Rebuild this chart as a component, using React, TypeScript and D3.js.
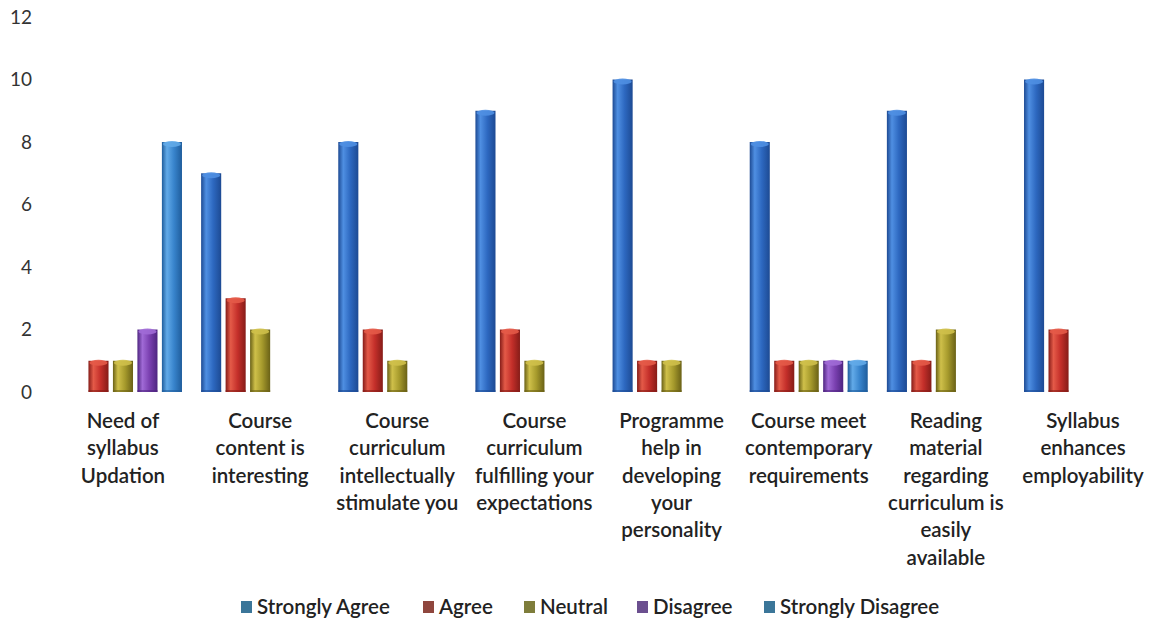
import React from "react";
import * as d3 from "d3";

const categories: string[][] = [
  ["Need of", "syllabus", "Updation"],
  ["Course", "content is", "interesting"],
  ["Course", "curriculum", "intellectually", "stimulate you"],
  ["Course", "curriculum", "fulfilling your", "expectations"],
  ["Programme", "help in", "developing", "your", "personality"],
  ["Course meet", "contemporary", "requirements"],
  ["Reading", "material", "regarding", "curriculum is", "easily", "available"],
  ["Syllabus", "enhances", "employability"],
];

const seriesNames = ["Strongly Agree", "Agree", "Neutral", "Disagree", "Strongly Disagree"];
const stronglyAgree = [0, 7, 8, 9, 10, 8, 9, 10];
const agree = [1, 3, 2, 2, 1, 1, 1, 2];
const neutral = [1, 2, 1, 1, 1, 1, 2, 0];
const disagree = [2, 0, 0, 0, 0, 1, 0, 0];
const stronglyDisagree = [8, 0, 0, 0, 0, 1, 0, 0];
const yTicks = [0, 2, 4, 6, 8, 10, 12];

const seriesValues = [stronglyAgree, agree, neutral, disagree, stronglyDisagree];

const barColors = [
  { dark: "#1d4a93", base: "#2d68c0", light: "#4f8fe2" },
  { dark: "#861c18", base: "#c42f2a", light: "#e45a48" },
  { dark: "#6a6116", base: "#a69a2c", light: "#cfc04a" },
  { dark: "#4e2580", base: "#7a40b0", light: "#a06ad6" },
  { dark: "#1f5d9c", base: "#3884cc", light: "#62aae8" },
];
const legendColors = ["#3b7699", "#8f463e", "#7e7d3b", "#6b4f8f", "#3b7699"];

const W = 1153;
const H = 621;
const FONT = "Lato, 'Open Sans', sans-serif";

export default function App() {
  const x = d3
    .scaleBand<number>()
    .domain(d3.range(categories.length))
    .range([54.4, 1151.6])
    .padding(0);
  const y = d3.scaleLinear().domain([0, 12]).range([392, 17]);

  const inner = (ci: number) => {
    const c = (x(ci) as number) + x.bandwidth() / 2;
    return d3
      .scaleBand<number>()
      .domain(d3.range(seriesNames.length))
      .range([c - 59, c + 59])
      .paddingInner(0.18)
      .paddingOuter(0);
  };

  const legendX = [241, 423, 524, 637, 764];

  return (
    <svg width={W} height={H} style={{ position: "absolute", left: 0, top: 0, background: "#fff" }}>
      <defs>
        {barColors.map((c, i) => (
          <linearGradient key={i} id={`g${i}`} x1="0" x2="1" y1="0" y2="0">
            <stop offset="0%" stopColor={c.dark} />
            <stop offset="25%" stopColor={c.light} />
            <stop offset="60%" stopColor={c.base} />
            <stop offset="100%" stopColor={c.dark} />
          </linearGradient>
        ))}
      </defs>
      <rect x={0} y={0} width={W} height={H} fill="#fff" />
      {yTicks.map((t) => (
        <text
          key={t}
          x={32}
          y={y(t)}
          dy="0.35em"
          textAnchor="end"
          fontFamily={FONT}
          fontSize={19}
          fill="#333"
        >
          {t}
        </text>
      ))}
      {categories.map((_, ci) => {
        const xs = inner(ci);
        return (
          <g key={ci}>
            {seriesValues.map((vals, si) => {
              const v = vals[ci];
              if (!v) return null;
              const bx = xs(si) as number;
              const bw = xs.bandwidth();
              const top = y(v);
              const c = barColors[si];
              return (
                <g key={si}>
                  <rect x={bx} y={top} width={bw} height={y(0) - top} fill={`url(#g${si})`} />
                  <ellipse cx={bx + bw / 2} cy={top + 2} rx={bw / 2 - 1} ry={3} fill={c.light} opacity={0.9} />
                  <rect x={bx} y={y(0) - 2} width={bw} height={2} fill={c.dark} opacity={0.6} />
                </g>
              );
            })}
          </g>
        );
      })}
      {categories.map((lines, ci) => {
        const cx = (x(ci) as number) + x.bandwidth() / 2;
        return (
          <text key={ci} textAnchor="middle" fontFamily={FONT} fontSize={20.5} fontWeight={600} fill="#222">
            {lines.map((l, li) => (
              <tspan key={li} x={cx} y={428 + li * 27.3}>
                {l}
              </tspan>
            ))}
          </text>
        );
      })}
      {seriesNames.map((n, i) => (
        <g key={n}>
          <rect x={legendX[i]} y={601} width={11} height={12} fill={legendColors[i]} />
          <text x={legendX[i] + 16} y={607} dy="0.35em" fontFamily={FONT} fontSize={20.5} fontWeight={600} fill="#222">
            {n}
          </text>
        </g>
      ))}
    </svg>
  );
}
